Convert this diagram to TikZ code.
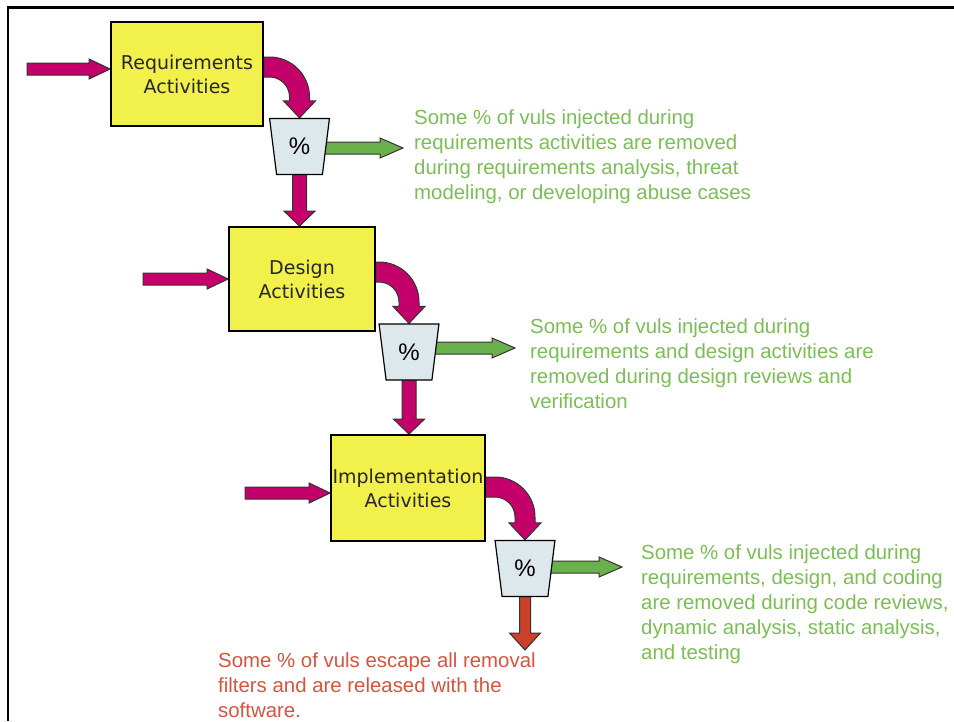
\documentclass[tikz,border=0pt]{standalone}
\usepackage{fontspec}
\setmainfont{Liberation Sans}
\newfontfamily\boxfont{DejaVu Sans}
\usetikzlibrary{calc,shapes.geometric,backgrounds}

\definecolor{magentaA}{RGB}{196,0,106}
\definecolor{boxyellow}{RGB}{242,240,74}
\definecolor{funnelfill}{RGB}{220,232,236}
\definecolor{greenarrow}{RGB}{106,176,76}
\definecolor{greentext}{RGB}{124,190,85}
\definecolor{redtext}{RGB}{214,84,64}
\definecolor{redarrow}{RGB}{200,66,42}

\tikzset{
  activity/.style={draw=black, line width=1.8pt, fill=boxyellow, minimum height=104pt,
    align=center, font=\boxfont\fontsize{19}{24}\selectfont, text=black!85, inner sep=0pt},
  funnel/.style={trapezium, shape border rotate=180, trapezium stretches=true,
    trapezium left angle=79, trapezium right angle=79, minimum width=60pt, minimum height=56pt,
    draw=black, line width=1.2pt, fill=funnelfill, font=\fontsize{24}{24}\selectfont, inner sep=0pt},
  blockarrow/.style={draw=black!80, line width=1pt, line join=miter},
  note/.style={anchor=north west, align=left, inner sep=0pt, font=\fontsize{20.4}{25}\selectfont},
}

% straight block arrow pointing right: start, target, colour, half shaft, half head, head length
\newcommand\hblock[6]{%
  \draw[blockarrow, fill=#3] let \p1=(#1), \p2=(#2) in
    (\x1,\y1+#4pt) -- (\x2-#6pt,\y1+#4pt) -- (\x2-#6pt,\y1+#5pt) -- (\x2,\y1)
    -- (\x2-#6pt,\y1-#5pt) -- (\x2-#6pt,\y1-#4pt) -- (\x1,\y1-#4pt) -- cycle;}
% straight block arrow pointing down
\newcommand\vblock[6]{%
  \draw[blockarrow, fill=#3] let \p1=(#1), \p2=(#2) in
    (\x1-#4pt,\y1) -- (\x1-#4pt,\y2+#6pt) -- (\x1-#5pt,\y2+#6pt) -- (\x1,\y2)
    -- (\x1+#5pt,\y2+#6pt) -- (\x1+#4pt,\y2+#6pt) -- (\x1+#4pt,\y1) -- cycle;}
% bent block arrow: leaves to the right, turns down onto the target
\newcommand\cblock[3]{%
  \draw[blockarrow, fill=#3] let \p1=(#1), \p2=(#2) in
    (\x1,\y1+10pt) -- (\x2-30pt,\y1+10pt) arc[start angle=90, end angle=0, radius=40pt]
    -- (\x2+10pt,\y2+17pt) -- (\x2+16pt,\y2+17pt) -- (\x2,\y2) -- (\x2-16pt,\y2+17pt)
    -- (\x2-10pt,\y2+17pt) -- (\x2-10pt,\y1-30pt) arc[start angle=0, end angle=90, radius=20pt]
    -- (\x1,\y1-10pt) -- cycle;}

\begin{document}
\begin{tikzpicture}[x=1pt, y=-1pt]
  \useasboundingbox (0,0) rectangle (954,721);
  \begin{pgfonlayer}{background}
    \fill[white] (0,0) rectangle (954,721);
  \end{pgfonlayer}
  \draw[line width=2.5pt] (8,721) -- (8,7.5) -- (954,7.5);

  % activities and removal filters
  \node[activity, minimum width=152pt] (b1) at (187,74) {Requirements\\Activities};
  \node[funnel] (f1) at (299.5,146.5) {\%};
  \node[activity, minimum width=146pt] (b2) at (302,279) {Design\\Activities};
  \node[funnel] (f2) at (409,352) {\%};
  \node[activity, minimum width=154pt, minimum height=106pt] (b3) at (408,488) {Implementation\\Activities};
  \node[funnel] (f3) at (525,568.5) {\%};

  % free ends of the arrows
  \coordinate (in1) at (27,69);
  \coordinate (in2) at (143,279);
  \coordinate (in3) at (245,493);
  \coordinate (out1) at (403,148);
  \coordinate (out2) at (515,348);
  \coordinate (out3) at (622,567);
  \coordinate (esc) at (522,650);

  \begin{pgfonlayer}{background}
    % vulnerabilities injected
    \hblock{in1}{in1 -| b1.west}{magentaA}{6}{10}{21}
    \hblock{in2}{in2 -| b2.west}{magentaA}{6}{10}{21}
    \hblock{in3}{in3 -| b3.west}{magentaA}{6}{10}{21}
    % flow into the filters
    \cblock{$(b1.east)+(0,7pt)$}{f1.north}{magentaA}
    \cblock{$(b2.east)+(0,7pt)$}{f2.north}{magentaA}
    \cblock{$(b3.east)+(0,1pt)$}{f3.north}{magentaA}
    % removed
    \hblock{f1.center |- out1}{out1}{greenarrow}{6}{10}{23}
    \hblock{f2.center |- out2}{out2}{greenarrow}{6}{10}{23}
    \hblock{f3.center |- out3}{out3}{greenarrow}{6}{10}{23}
    % passed on
    \vblock{f1.center}{b2.north}{magentaA}{7}{15.5}{15}
    \vblock{f2.center}{b3.north}{magentaA}{7}{15.5}{15}
    \vblock{f3.center}{esc}{redarrow}{5.5}{15.5}{17}
  \end{pgfonlayer}

  \node[note, text=greentext] (t1) at (414,110) {Some \% of vuls injected during\\requirements activities are removed\\during requirements analysis, threat\\modeling, or developing abuse cases};
  \node[note, text=greentext] (t2) at (530,319) {Some \% of vuls injected during\\requirements and design activities are\\removed during design reviews and\\verification};
  \node[note, text=greentext] (t3) at (641,545) {Some \% of vuls injected during\\requirements, design, and coding\\are removed during code reviews,\\dynamic analysis, static analysis,\\and testing};
  \node[note, text=redtext] (t4) at (218,653) {Some \% of vuls escape all removal\\filters and are released with the\\software.};
\end{tikzpicture}
\end{document}
